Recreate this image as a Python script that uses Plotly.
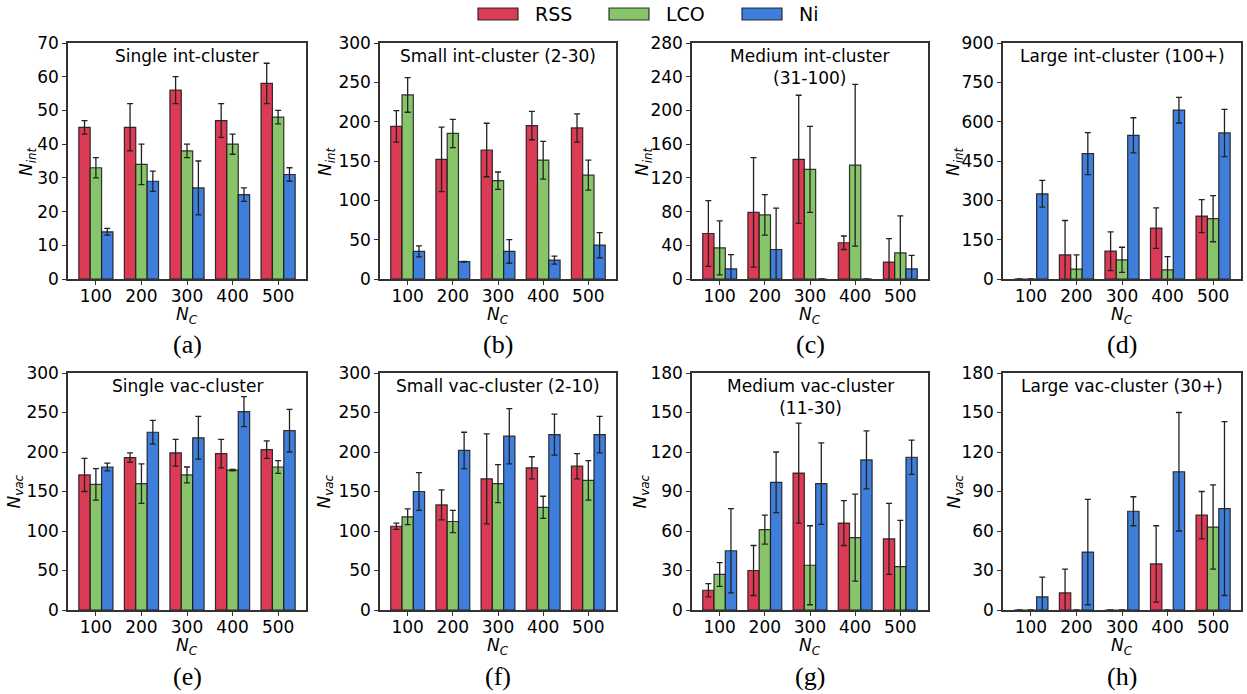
import plotly.graph_objects as go
from plotly.subplots import make_subplots

nc_labels = ["100", "200", "300", "400", "500"]
series = ["RSS", "LCO", "Ni"]
colors = {"RSS": "#DC3B55", "LCO": "#88C46A", "Ni": "#3F7FDB"}

# (a) Single int-cluster
a_rss = [45, 45, 56, 47, 58]; a_rss_e = [2, 7, 4, 5, 6]
a_lco = [33, 34, 38, 40, 48]; a_lco_e = [3, 6, 2, 3, 2]
a_ni = [14, 29, 27, 25, 31]; a_ni_e = [1, 3, 8, 2, 2]
# (b) Small int-cluster (2-30)
b_rss = [194, 152, 164, 195, 192]; b_rss_e = [20, 41, 34, 18, 18]
b_lco = [234, 185, 125, 151, 132]; b_lco_e = [22, 18, 11, 24, 19]
b_ni = [35, 22, 35, 24, 43]; b_ni_e = [7, 0.5, 15, 5, 16]
# (c) Medium int-cluster (31-100)
c_rss = [54, 79, 142, 43, 20]; c_rss_e = [39, 65, 76, 8, 28]
c_lco = [37, 76, 130, 135, 31]; c_lco_e = [32, 24, 51, 96, 44]
c_ni = [12, 35, 0, 0, 12]; c_ni_e = [17, 49, 0, 0, 16]
# (d) Large int-cluster (100+)
d_rss = [0, 92, 106, 194, 240]; d_rss_e = [0, 131, 74, 77, 63]
d_lco = [0, 38, 73, 35, 230]; d_lco_e = [0, 54, 48, 50, 88]
d_ni = [325, 478, 548, 644, 557]; d_ni_e = [51, 80, 67, 49, 90]
# (e) Single vac-cluster
e_rss = [171, 193, 199, 198, 203]; e_rss_e = [21, 6, 17, 18, 11]
e_lco = [159, 160, 171, 177, 181]; e_lco_e = [20, 25, 10, 1, 8]
e_ni = [181, 225, 218, 251, 227]; e_ni_e = [5, 15, 27, 19, 27]
# (f) Small vac-cluster (2-10)
f_rss = [106, 133, 166, 180, 182]; f_rss_e = [4, 19, 57, 14, 16]
f_lco = [118, 112, 160, 130, 164]; f_lco_e = [10, 14, 24, 14, 25]
f_ni = [150, 202, 220, 222, 222]; f_ni_e = [24, 23, 35, 26, 23]
# (g) Medium vac-cluster (11-30)
g_rss = [15, 30, 104, 66, 54]; g_rss_e = [5, 19, 38, 17, 27]
g_lco = [27, 61, 34, 55, 33]; g_lco_e = [9, 11, 30, 33, 35]
g_ni = [45, 97, 96, 114, 116]; g_ni_e = [32, 23, 31, 22, 13]
# (h) Large vac-cluster (30+)
h_rss = [0, 13, 0, 35, 72]; h_rss_e = [0, 18, 0, 29, 18]
h_lco = [0, 0, 0, 0, 63]; h_lco_e = [0, 0, 0, 0, 32]
h_ni = [10, 44, 75, 105, 77]; h_ni_e = [15, 40, 11, 45, 66]

panels = [
    ("Single int-cluster", "int", [a_rss, a_lco, a_ni], [a_rss_e, a_lco_e, a_ni_e], 70, 10, "(a)"),
    ("Small int-cluster (2-30)", "int", [b_rss, b_lco, b_ni], [b_rss_e, b_lco_e, b_ni_e], 300, 50, "(b)"),
    ("Medium int-cluster<br>(31-100)", "int", [c_rss, c_lco, c_ni], [c_rss_e, c_lco_e, c_ni_e], 280, 40, "(c)"),
    ("Large int-cluster (100+)", "int", [d_rss, d_lco, d_ni], [d_rss_e, d_lco_e, d_ni_e], 900, 150, "(d)"),
    ("Single vac-cluster", "vac", [e_rss, e_lco, e_ni], [e_rss_e, e_lco_e, e_ni_e], 300, 50, "(e)"),
    ("Small vac-cluster (2-10)", "vac", [f_rss, f_lco, f_ni], [f_rss_e, f_lco_e, f_ni_e], 300, 50, "(f)"),
    ("Medium vac-cluster<br>(11-30)", "vac", [g_rss, g_lco, g_ni], [g_rss_e, g_lco_e, g_ni_e], 180, 30, "(g)"),
    ("Large vac-cluster (30+)", "vac", [h_rss, h_lco, h_ni], [h_rss_e, h_lco_e, h_ni_e], 180, 30, "(h)"),
]

W, H = 1247, 694
xpix = [(68, 306), (380, 616), (692, 928), (1003, 1241)]
ypix = [(43, 279), (373, 610)]
ytitle_off = [41, 54, 49, 49, 53, 55, 51, 48]   # px left of axis for y titles

fig = make_subplots(rows=2, cols=4)
FONT = "DejaVu Sans"
xs = list(range(len(nc_labels)))

for i, (title, kind, vals, errs, ymax, dtick, lab) in enumerate(panels):
    r, c = i // 4 + 1, i % 4 + 1
    for s, v, e in zip(series, vals, errs):
        fig.add_trace(go.Bar(
            x=xs, y=v, name=s, legendgroup=s, showlegend=False,
            marker=dict(color=colors[s], line=dict(color="rgba(20,20,20,0.85)", width=1.2)),
            error_y=dict(type="data", array=e, color="#222222", thickness=1.3, width=3),
        ), row=r, col=c)
    n = i + 1
    xa = "xaxis" if n == 1 else f"xaxis{n}"
    ya = "yaxis" if n == 1 else f"yaxis{n}"
    x0, x1 = xpix[c - 1]
    y0, y1 = ypix[r - 1]
    fig.layout[xa].update(
        domain=[x0 / W, x1 / W], range=[-0.6125, 4.6125], automargin=False,
        tickmode="array", tickvals=xs, ticktext=nc_labels,
        showline=True, mirror=True, linecolor="#333333", linewidth=1.5,
        ticks="outside", ticklen=4, tickwidth=1.2, tickcolor="#333333",
        ticklabelstandoff=-3,
        showgrid=False, zeroline=False,
        tickfont=dict(family=FONT, size=17, color="black"),
    )
    fig.layout[ya].update(
        domain=[1 - y1 / H, 1 - y0 / H], range=[0, ymax], dtick=dtick, tick0=0, automargin=False,
        showline=True, mirror=True, linecolor="#333333", linewidth=1.5,
        ticks="outside", ticklen=4, tickwidth=1.2, tickcolor="#333333",
        showgrid=False, zeroline=False,
        tickfont=dict(family=FONT, size=17, color="black"),
    )
    xref = "x domain" if n == 1 else f"x{n} domain"
    yref = "y domain" if n == 1 else f"y{n} domain"
    wpx = x1 - x0
    # panel title inside axes
    fig.add_annotation(text=title, xref=xref, yref=yref, x=0.5, y=0.995, xanchor="center", yanchor="top",
                       showarrow=False, font=dict(family=FONT, size=17, color="black"))
    # x axis title
    fig.add_annotation(text="<i>N</i><sub><i>C</i></sub>", xref=xref, yref="paper", x=0.5,
                       y=1 - (y1 + 36) / H, xanchor="center", yanchor="middle", showarrow=False,
                       font=dict(family=FONT, size=17, color="black"))
    # y axis title
    fig.add_annotation(text=f"<i>N</i><sub><i>{kind}</i></sub>", xref=xref, yref=yref,
                       x=-ytitle_off[i] / wpx, y=0.5, xanchor="center", yanchor="middle",
                       textangle=-90, showarrow=False, font=dict(family=FONT, size=17, color="black"))
    # panel label
    fig.add_annotation(text=lab, xref=xref, yref="paper", x=0.5, y=1 - (y1 + 66) / H,
                       xanchor="center", yanchor="middle", showarrow=False,
                       font=dict(family="Liberation Serif", size=26, color="black"))

# legend (patches + text at the top centre)
leg_x = [478, 609, 742]
for s, lx in zip(series, leg_x):
    fig.add_shape(type="rect", xref="paper", yref="paper",
                  x0=lx / W, x1=(lx + 40) / W, y0=1 - 20 / H, y1=1 - 8 / H,
                  fillcolor=colors[s], line=dict(color="rgba(20,20,20,0.85)", width=1.2))
    fig.add_annotation(text=s, xref="paper", yref="paper", x=(lx + 55) / W, y=1 - 14 / H,
                       xanchor="left", yanchor="middle", showarrow=False,
                       font=dict(family=FONT, size=19, color="black"))

fig.update_layout(
    width=W, height=H, margin=dict(l=0, r=0, t=0, b=0, pad=0, autoexpand=False),
    paper_bgcolor="white", plot_bgcolor="white",
    barmode="group", bargap=0.25, bargroupgap=0,
    showlegend=False,
)

fig.write_html("out.html")
